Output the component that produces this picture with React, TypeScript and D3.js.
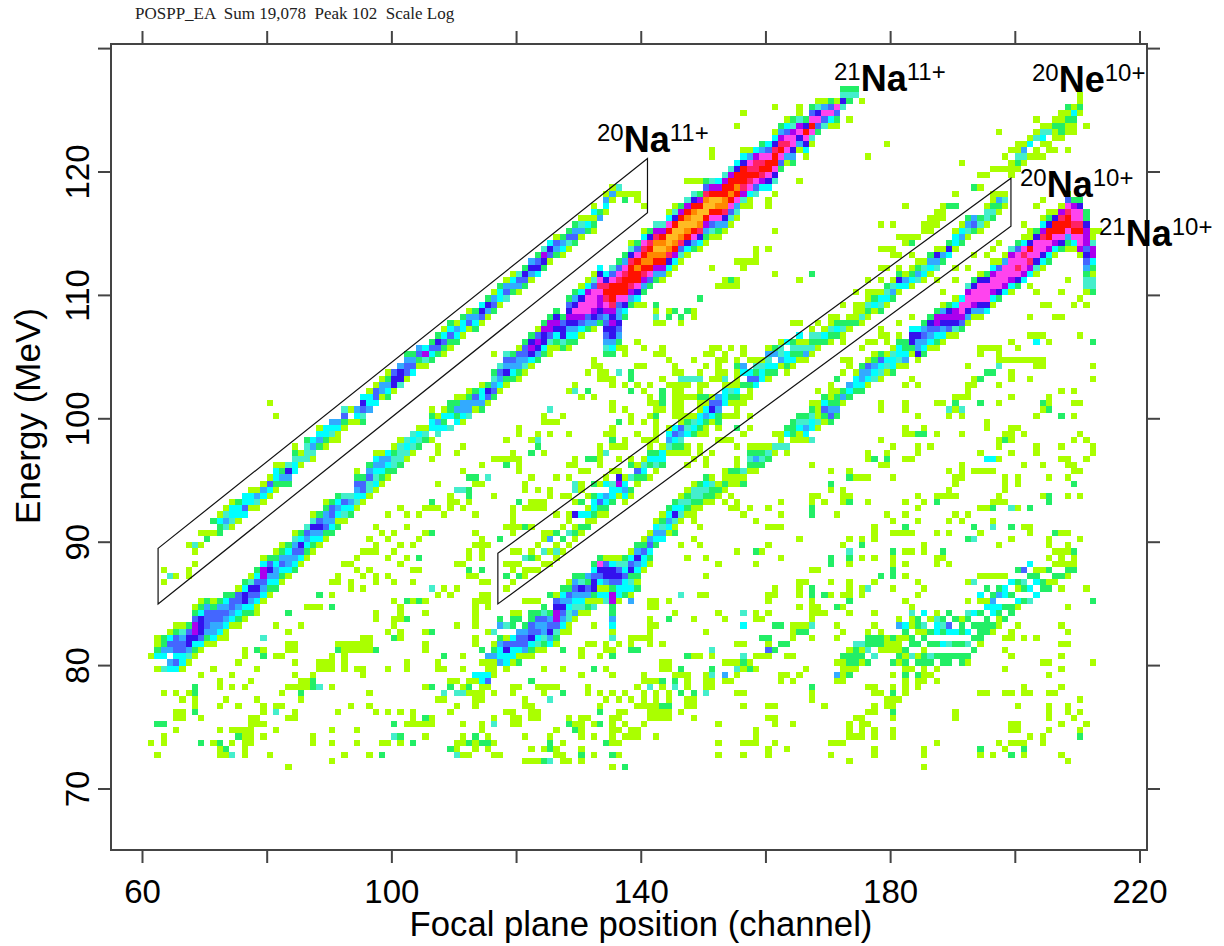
import React from 'react';
import * as d3 from 'd3';

// levels run on the log colour scale of the histogram, 1 = lowest count
const levelKeys = ['1','2','3','4','5','6','7','8','9','a','b','c','d'];
const levelColors = ['#aaff00','#22ee66','#44eecc','#00ffff','#33aaff','#4466ff','#3311ee','#aa00ee','#ff44ee','#ff2266','#ff1100','#ff8800','#ffbb22'];

const xTicks = [60,80,100,120,140,160,180,200,220];
const xLabels = [60,100,140,180,220];
const yTicks = [70,80,90,100,110,120,130];
const yLabels = [70,80,90,100,110,120];

const gate11 = [[62.5,89.5],[141,121.1],[141,116.7],[62.5,85]];
const gate10 = [[117,89.1],[199.3,119.5],[199.3,115.6],[117,85]];

const ionLabels = [
  {mass:'20',el:'Na',q:'11+',px:597,py:152},
  {mass:'21',el:'Na',q:'11+',px:834,py:91},
  {mass:'20',el:'Ne',q:'10+',px:1032,py:92},
  {mass:'20',el:'Na',q:'10+',px:1020,py:197},
  {mass:'21',el:'Na',q:'10+',px:1099,py:246},
];

// [channel, lowest energy bin, levels going up in 0.5 MeV bins, . = empty]
const ridge21Na11: [number,number,string][] = [
[61,80.5,"1"],[62,79.5,"1.4211"],[63,79.5,"3.4522"],[64,79.5,"45.5641"],[65,79.5,"46466621"],[66,79.5,"14466531"],[67,80,"1357762"],[68,80.5,"124788621"],[69,81,"146777421"],[70,81.5,"12566652"],
[71,81.5,"14556621"],[72,82,"1456652"],[73,82.5,"1456542"],[74,83,"145662"],[75,83,"1245661"],[76,83.5,"1247742"],[77,84,"2456731"],[78,84.5,"1467642"],[79,85,"14568841"],[80,85.5,"1245762"],
[81,86,"2455421"],[82,86.5,"1246521"],[83,87,"145542"],[84,87.5,"2456531"],[85,88,"146742"],[86,88.5,"124563"],[87,89,"1245731"],[88,89.5,"145762"],[89,90,"1265521"],[90,90.5,"245662"],
[91,91,"214542"],[92,91.5,"13463"],[93,92,"2453"],[94,92.5,"1345621"],[95,93,"14662"],[96,93.5,"133652"],[97,94,"1434541"],[98,94.5,"124551"],[99,95,"12454"],[100,95.5,"23321"],
[101,96,"23331"],[102,96.5,"1343"],[103,97,"1343"],[104,97.5,"2341"],[105,98,"231"],[106,98,"1.4421"],[107,98.5,"3451"],[108,99,"4241"],[109,99,"3.422"],[110,99.5,"42521"],
[111,99.5,"14551"],[112,100,"35521"],[113,100.5,"1562"],[114,100.5,"25441"],[115,101,"1672"],[116,101.5,"26532"],[117,102,"14563"],[118,102.5,"127563"],[119,103,"24562"],[120,103,"125561"],
[121,103.5,"135662"],[122,104,"147872"],[123,104.5,"257861"],[124,105,"247782"],[125,105,"1136882"],[126,105.5,"1247872"],[127,105.5,"237762"],[128,105.5,"124578762"],[129,106,"245789752"],[130,106.5,"146899741"],
[131,107,"256999841"],[132,107,"1578999631"],[133,107.5,"267889a974"],[134,105,"235676589aba74"],[135,105,"24577878abbb963"],[136,105.5,"125675569bba962"],[137,108,"2479bbba952"],[138,109,"258abbba731"],[139,109,"1479bbcb962"],[140,110,"258abcba941"],
[141,110.5,"269bccba72"],[142,111,"258bcdca83"],[143,111,"158bcdcb83"],[144,111.5,"147acddb941"],[145,112,"148bcddb731"],[146,112.5,"136acddb82"],[147,113,"147bcdcb83"],[148,113.5,"259bddcb73"],[149,113.5,"147acddb82"],[150,114,"1258bddca62"],
[151,114.5,"1369bddb83"],[152,114.5,"1259bcdb84"],[153,115,"157accbb83"],[154,115.5,"1369bcbb83"],[155,116.5,"359bcbb74"],[156,117,"138abbb741"],[157,117,"1149aba951"],[158,118,"369baa84"],[159,118.5,"48aba952"],[160,118.5,"479bb964"],
[161,119,"379bba741"],[162,120,"269ba852"],[163,120.5,"159a9641"],[164,120.5,"25799832"],[165,121.5,"1579831"],[166,121,"1479b72"],[167,122,"139b962"],[168,123,"269731"],[169,123.5,"36951"],[170,123.5,"14962"],
[171,123.5,"12691"],[172,125,"3732"],[173,125.5,"232"],[174,126,"32"],
];

const ridge20Na11: [number,number,string][] = [
[63,86.5,"1.1"],[64,87,"3"],[65,87,"1"],[67,87,"11"],[68,87.5,".1.1"],[67,89.5,"1"],[68,89.5,"3"],[69,89.5,"1.1"],[70,90,"21"],
[71,90.5,"1.2"],[72,90.5,"2241"],[73,91,"3531"],[74,91,"13441"],[75,91.5,"1442"],[76,92,"4644"],[77,92.5,"1441"],[78,92.5,"1351"],[79,93,"1451"],[80,93.5,"1461"],
[81,94,"12441"],[82,94.5,"2521"],[83,94.5,"2573"],[84,95.5,"44321"],[85,96,"131"],[86,96.5,"3332"],[87,96.5,"1354"],[88,97.5,"2541"],[89,97.5,"1244"],[90,98,"1345"],
[91,98,"1145"],[92,99,"1263"],[93,99.5,"1.1"],[94,99.5,"145"],[95,99.5,"23674"],[96,100.5,"5441"],[97,101,"4661"],[98,101.5,"1551"],[99,101.5,"24521"],[100,102,"1776"],
[101,102.5,"3775"],[102,103,"16652"],[103,103.5,"4652"],[104,104,"1265"],[105,104,"1384"],[106,104.5,"2462"],[107,105,"2672"],[108,105,"12641"],[109,105.5,"12642"],[110,106,"2451"],
[111,106.5,"1442"],[112,107,"1651"],[113,107,"2452"],[114,107.5,"1674"],[115,108,"1572"],[116,108.5,"2651"],[117,109,"1442"],[118,109.5,"3651"],[119,110,"2541"],[120,110,"1563"],
[121,110.5,"2672"],[122,111,"1575"],[123,111.5,"4762"],[124,112,"2783"],[125,112.5,"1674"],[126,113,"2561"],[127,113,"1452"],[128,113.5,"1362"],[129,114,"2652"],[130,114.5,"1531"],
[131,115,"241"],[132,115,"12141"],[133,116,"52"],[134,116.5,"1451"],[135,117.5,"151"],[136,118,"13"],[137,117.5,"21"],[138,118,"1"],[139,117.5,"11"],[140,117,"1"],
];

const ridge20Na10: [number,number,string][] = [
[118,86,"1.2.1"],[119,86.5,"1.11"],[120,87,"2.1.1"],[121,87,"11.3"],[122,87.5,"1.21"],[123,87.5,"1.1.1"],[124,88,"1.3.1"],[125,88,"1.1.51"],[126,88.5,"131.2"],[127,89,"1.2.1"],
[128,89.5,"1.3.1"],[129,90,"121.7.1.3"],[130,90.5,"12.4.2.1"],[131,91,"2141.1"],[132,91.5,"12442.2"],[133,92,"1264.1"],[134,92,"1245.41"],[135,93,"2443.1"],[136,93.5,"14871.1"],[137,93,"14541"],
[138,93.5,"12.3.2"],[139,94.5,"1261"],[140,95,"2431"],[141,95,"1.2421"],[142,95.5,"1342.1"],[143,96,"2441"],[144,97,"13541"],[145,97,"12464"],[146,97.5,"23561"],[147,97.5,"1.4321"],
[148,98.5,"2431"],[149,98.5,"12441"],[150,99,"1254.2"],[151,99.5,"14761"],[152,100,"2565"],[153,100,"1.4441"],[154,101,"1231"],[155,102,"4.1.2"],[156,102.5,"2.45.1"],[157,102,"1264.1"],
[158,102.5,"46231"],[159,103,"4431"],[160,103,"124351"],[161,103.5,"24.52"],[162,104,"15331"],[163,103.5,"1244.4"],[164,104,"14232"],[165,104.5,"12314"],[166,104.5,"1531"],[167,105,"1323"],
[168,105.5,"123"],[169,106,"241"],[170,106,"1231"],[171,106.5,"242"],[172,106,"1132"],[173,107,"121"],[174,107.5,"211"],[175,107.5,"131"],[176,108,"1231"],[177,108.5,"1421"],
[178,108.5,"2341"],[179,109,"1432"],[180,109.5,"2531"],[181,110,"1472"],[182,110.5,"451"],[183,110.5,"1421"],[184,111,"3521"],[185,111,"1431"],[186,111.5,"1452"],[187,112,"3571"],
[188,112.5,"251"],[189,113,"472"],[190,113.5,"1441"],[191,114,"2541"],[192,114.5,"1352"],[193,115,"265"],[194,115,"132"],[195,115.5,"1331"],[196,116,"2321"],[197,116.5,"1251"],
[198,117,"131"],[199,119.5,"11"],[200,120,"1231"],[201,120.5,"1351"],[202,121,"1.41"],[203,121.5,"1.31"],[204,122,"1431"],[205,122,"1.31"],[206,122.5,"1121"],[207,123,"221"],
[208,123,"1121"],[209,123.5,"1241"],[210,124.5,"1211"],[211,123.5,"1"],[210,125.5,"1"],
];

const ridge21Na10: [number,number,string][] = [
[113,78.5,"14"],[114,78,"144"],[115,78,"1641"],[116,79,"111521"],[117,80,"54452.52"],[118,79.5,"144761.3"],[119,80,"14464.221"],[120,80,"214665.21"],
[121,80.5,"156652"],[122,80.5,"12476622"],[123,81,"1346562"],[124,81,"12355632"],[125,81.5,"457652"],[126,81.5,"123688761"],[127,82.5,"14567542"],[128,83,"13345621"],[129,83.5,"15345652"],[130,84,"1345732"],
[131,84,"1215625"],[132,84.5,"31277642"],[133,85,"14146792"],[134,85,"34157761"],[135,82,"31452288267741"],[136,85,"14467631"],[137,85.5,"2446432"],[138,85,"514327641"],[139,86,"21245752"],[140,87.5,"144621"],
[141,88,"124651"],[142,89.5,"24541"],[143,90,"45321"],[144,90.5,"14542"],[145,90.5,"213742"],[146,91.5,"13431"],[147,92,"12321"],[148,92,"112331"],[149,92.5,"12332"],[150,93,"12342"],
[151,93,"12231"],[152,93.5,"121"],[153,94,"1211"],[154,94.5,"112"],[155,95,"1211"],[156,94.5,"213"],[157,95.5,"12321"],[158,95.5,"12521"],[159,96,"2321"],[160,96.5,"231"],
[161,97,"13.1"],[162,97.5,"311"],[163,97,"13.42"],[164,98,"1222"],[165,98,"11432"],[166,98,"14532"],[167,98,"3.4432"],[168,99,"1311"],[169,99.5,"12642"],[170,99.5,"26521"],
[171,100,"25221"],[172,101,"152"],[173,101.5,"245"],[174,102,"2441"],[175,102,"24552"],[176,102.5,"14561"],[177,103,"3452"],[178,103,"13462"],[179,103.5,"1341"],[180,103.5,"24431"],
[181,104,"13442"],[182,104,"15422"],[183,105,"12774"],[184,104.5,"175574"],[185,105,"245652"],[186,105.5,"145672"],[187,105.5,"1246882"],[188,106,"1457851"],[189,106.5,"167872"],[190,106.5,"1378841"],
[191,107,"268994"],[192,107.5,"1579983"],[193,108,"1589972"],[194,108,"15799971"],[195,108.5,"4799972"],[196,109,"14899841"],[197,109.5,"2799961"],[198,110,"4899951"],[199,110,"14899983"],[200,110.5,"279a9962"],
[201,111,"4899a941"],[202,111.5,"48a9b71"],[203,111.5,"13799972"],[204,112,"14799a841"],[205,112.5,"2489bb72"],[206,113,"1489bb71"],[207,113.5,"279bba81"],[208,113.5,"1259bba961"],[209,113.5,"149ba9982"],[210,113,"1899ba9972"],
[211,110,"13325676888722"],[212,110,"2331248831"],
];

const lowBand: [number,number,string][] = [
[172,79.5,"112"],[173,79.5,"1221"],[174,80,"2223"],[175,80.5,"213"],[176,81,"322"],[177,80.5,"3.22"],[178,81,"1221"],[179,81,"1.1"],[180,79,"1.2.1.2"],[181,80,"121.1.51"],
[182,79.5,"12.2.124"],[183,79.5,"1.3.22.1131"],[184,80,"21.2.122"],[185,79.5,"12.1.213.4"],[186,80,"23.2.2.1"],[187,79.5,"1.2.2.4431"],[188,80,"22.4.232"],[189,80,"22.3.46.2"],[190,80.5,"2.2.4.2"],[191,80,"22.2.221"],
[192,80.5,"2.3.4.23.1"],[193,81,"2.2.2.4"],[194,81.5,"1222.2.14"],[195,82.5,"222.41.2"],[196,82.5,"12.4452"],[197,83,"1124.52"],[198,83.5,"2.2.44.1"],[199,84,"22.2.4"],[200,84.5,"14.12.2"],[201,85,"2.23.6"],
[202,85,"3.4.2.4"],[203,85.5,"4.421"],[204,86,"22.1"],[205,86,"21.2.1"],[206,86.5,"12.1"],[207,87,"2.1.1"],[208,87,"121"],[209,87.5,"21"],
];

// loose counts away from the ridges: [energy bin, "channel channel:level ..."]
const scatterLeft: [number,string][] = [
[71.5,"83"],[72,"90"],[72.5,"62 72 73 74:3 76 80 92 96 98:2"],[73,"72 73:2 76"],[73.5,"61 63 69:2 71 72:2 74 76 77 87 90 94 98 99 101 103:2"],[74,"63 75:2 76 77 79 87 100:3 101:2 105"],
[74.5,"65 72 74 75 76 77 81 90 94"],[75,"62:2 63:2 77 78 79 100:2 102 103 104 105"],[75.5,"65 66 69 77 78 83 84 103 105:2"],[76,"65 66 68:2 79 81:3 84 91 97 99 101 103"],[76.5,"68 72 75 79 81 82 93 96"],[77,"66 68 73 78 85"],
[77.5,"63 65 67 68:2 82 85:2 96"],[78,"68:2 72 74 76 83 84 85 86 87:2 88:3 90 105"],[78.5,"72 77 85 86 87:2"],[79,"69 74 84 87 95"],[79.5,"71 78 88 89 90 92 94 95 99 102"],[80,"75 84 88 89 90 92 102"],
[80.5,"76 79:2 81 82 90 92"],[81,"76 78:2 79 83 84 91:2 92 93 94 95 96 97:2 105"],[81.5,"70 83 84 91 92 93 94 95 96 105"],[82,"73 79:3 95 96 100:2 101"],[82.5,"83 99 101 105"],[83,"81 85 100"],
[83.5,"97 100 101 102:2"],[84,"78 83:2 97 101 105"],[84.5,"86 87 88 90:2 101"],[85,"100 102:2 103 104:2 105"],[85.5,"88:2 90"],[86,"93 95"],[86.5,"90 91 93 97 100 103"],[87,"91 95 97 99"],
[87.5,"94 96 103 104"],[88,"92 93 101"],[88.5,"94 99 102 104:2"],[89,"95 96 97 100"],[89.5,"97 101 103"],[90,"96 99 104"],[90.5,"98 100 105"],[91,"97 102"],[92,"99 102 104"],[92.5,"101 105"],
[100,"81"],[101,"80"],
];

const scatterMid: [number,string][] = [
[71.5,"135 137:2"],[72,"121 122 123 124:2 125:3 127 128 130"],[72.5,"110:3 111 112 116 117 126 127 130:2 132 135:2 136 152 156"],[73,"109:2 110 113 115 122 124 125:2 126 130"],[73.5,"110 111 112:2 113 114:2 115:2 116 125:2 127 134:2 135 136 152 156 157"],[74,"111 113:2 115 121 125 130 132 135 137 138 139 142"],
[74.5,"114 126 129:2 130 135 136 138 139"],[75,"106 111 114 116:3 119 120 128:2 129 130 132 133:2 135 137 140 152"],[75.5,"106 116 119 120 122 123 128 130 131 135 136 141 142 143 144 148"],[76,"109 118 119 122 123 133:2 136 137 141 142 143 144 146"],[76.5,"110 113 121 122 133 139 140 141 142 143:2 144:2 147 148 156"],[77,"107 108 113 114 121 125:3 134 136 138 140 142 144 147 148"],
[77.5,"108:3 110:3 111:3 112 113 114 116 119 124 127:2 131 133 135 137 140 142 144 146:2 148:2 150:3 155 156"],[78,"106:2 109:2 111 112:2 119 120 123 124 125 126 131 139 141:3 143 145:3 147 150 151"],[78.5,"109 110 112 122:2 140 141 142 143:2 145:2 147 150 151 153 154"],[79,"130 135 140 145 146 147 150 151:3 153:5 155"],[79.5,"107 108 111 124 127 132:2 134 143 144 146:2 151:2 155:3 156 157:2"],[80,"107 114 115 116 143 144 153 154 155 156:2 157"],
[80.5,"108:2 111 115:5 130 133 135:2 147:2 148 149 151 156:3"],[81,"114:2 127:2 130 134 135 138:2 139:2 151:3"],[81.5,"113 131 132 134 136 138 141 143 155 156"],[82,"113 135:3 138 139 140 141"],[82.5,"106:2 115 116:3 128 141 150"],[83,"110 113 132 135:4 141 142 156:4"],
[83.5,"113 141 144:2 148 153"],[84,"113 145 152 156:3"],[84.5,"113 115 141 142"],[85,"113 114 115 121 122 123 141 142 144"],[85.5,"107 109 114 115 125:2 146:3 149 150"],[86,"106:3 108 110"],[86.5,"114 115"],
[87,"112 113 150"],[87.5,"112:2 114:2"],[88,"110 111 152"],[88.5,"112 114 147 150"],[89,"112 114 119 155"],[89.5,"113 114 115 146 149"],[90,"114 117:2 148"],[90.5,"106:2 113 119 124 125 126"],
[91,"118 119 120 121:2 122 149"],[91.5,"119 146 148"],[92,"108 113 119 126 128 156"],[92.5,"106 107 109 111 119 121 122 123 124 147 149 154 155 157"],[93,"106:2 109 110 112 120:2 122 123 124 153 155"],[93.5,"109 112:2 116 125 127 128 150 152 154"],
[94,"110:3 111:3 112:2 121 123 125"],[94.5,"107 113 114 121 129:3 130 155"],[95,"112:2 113:2 115:3 122 126 128 155"],[95.5,"111 120 130 131 153 156"],[96,"114 118:2 120 128 129 133 140 141 147 150 155"],[96.5,"106 116 117 118 119 120 129 131:2 132:2 133 148 150"],
[97,"107 110 119 122:2 124 133 134:3 146 147"],[97.5,"107 111 123:2 133 135 136 137 149 155"],[98,"118 122 123:3 135:2 137 154"],[98.5,"120 123 125 128 134 142 156"],[99,"120 135 142 152 157"],[99.5,"124 125 126 136:2 138 140"],
[100,"124 127 138 141 154"],[100.5,"125:3 135 137 143"],[101,"135 141 142 146 151 155"],[101.5,"130 132 141 143 145 147 148 156 157"],[102,"128 129:3 131:2 138:2 140"],[102.5,"129 135 137 139 141 144 146"],[103,"133 134 135 138:2 143 155"],[103.5,"131 133 134 136:3 138:2 146 149"],
[104,"132 133 139 140 145 150 152 156"],[104.5,"132 144 148"],[105,"116 135 137 142 143"],[105.5,"137 140 143"],[106,"136 139"],[107.5,"142 143 146"],[108,"142:3 144:2 146:2 148"],[108.5,"142 144 145:2 147:2 148"],[109,"140 142:2"],
[109.5,"149:2"],[110.5,"152 153 154 155"],[111,"153 154:2 155 165"],[111.5,"161 167:2"],[112,"151 156"],[112.5,"155 156 157 158"],[113,"158"],[113.5,"158 160"],[115,"161"],
[116,"155"],[116.5,"155"],[117,"160"],[117.5,"160"],[118,"161"],[119,"147 148 149 150 165"],[121,"151 176"],[121.5,"151"],[123.5,"155"],[124,"173"],[124.5,"156"],[125,"161 165"],[125.5,"175"],
];

const scatterRight: [number,string][] = [
[71.5,"185"],[72,"173 208"],[72.5,"160 170 177 185 194 196 199:2 201 207"],[73,"160 163 177 185 194:2 198 201:2"],[73.5,"158 161 170 171 172 187 197 199 200 201 204"],[74,"158 173 174 175 177 180 202 204 210:2"],
[74.5,"158 173 175 177 180 199 200 205 210"],[75,"161 164 173 175 176 199 200 207 211"],[75.5,"160 161 174 175 180 190 205 209"],[76,"176 177 180:2 190 205 208 210"],[76.5,"160 161 169 177 179 180 200 205 208"],[77,"167 179 180 181 210"],
[77.5,"167 177 178 180:2 182 194 195 198 199 201 202 205 206"],[78,"167:2 176 177 180 182 184 201 207"],[78.5,"162 164 171 172 182 184 185 187"],[79,"162 163 165 171:5 172 173:2 180 182:2 184:2 185 186 205"],[79.5,"158 166 174 182:2 185 187:3 198 207"],[80,"171 174 175 176:2 184:3 185 186:2 188:2 192 204 205 212"],
[80.5,"158 159 160 163 164 174 175:2 177:3 182 183 185:2 187:3 191:2 199 207"],[81,"160:6 161:2 198"],[81.5,"160 162:2 163:2 179 180 181 207 208"],[82,"159:2 160:2 164 167 171 198 199 201 203"],[82.5,"164 165:2 166:2 172 176 199 208"],[83,"161:2 162:2 164 165 166 167:3 171 177 200 207"],
[83.5,"158 159 167"],[84,"158 160 167 168 169 173 177"],[84.5,"165 167 168 171:2 172 208"],[85,"160 167 173:2 182 212:2"],[85.5,"160 161 165 167:2 169:2 170 172 173 175 184"],[86,"161 165 167:2 173 175 176:3 180 185 205 207 211"],
[86.5,"165 166 170 173 177 184 192 193:3"],[87,"178:2 180:2 182 194 195 196 197"],[87.5,"167 168 180:2"],[88,"158 170:2 173 180 182 187 189"],[88.5,"162 170:2 173:2 175 177 180 187 188 205 207 209"],[89,"158:2 159 173:3 180:2 182 183 185 188:2 206 208 209:2"],
[89.5,"160 172 175:2 185 197 205 208"],[90,"165 173 175 177 192:2 193:3 199 205 210"],[90.5,"177 180 181 182 183 187 189 194 202 206:2 207 208"],[91,"160 161 162 177 182:2 193:2 196:3 199:2 201 202"],[91.5,"158 180 184 189 191 196"],[92,"162 167:2 171 179 182 190 192"],
[92.5,"160 167:2 184 194 195 196:2 199:3 200 202:2"],[93,"162 167 169 172 173:2 176 182 185 187:2 196 197 198 205:2"],[93.5,"167 168 172 173 184 187 188 189 190 197 204 205:2 208 210"],[94,"170 172 189 198"],[94.5,"170:2 190 198 200 209:2"],[95,"173:2 174 175 176 180 190 191 198 200 205 208"],
[95.5,"170 173 189 191 193 194 195 196 209 210"],[96,"167 178 179 191 201 204 208 209"],[96.5,"176 177:2 179:2 182 183 195:4 196:4 197 207 208 211"],[97,"176 179 184 194 199 203 212"],[97.5,"180 184 186 197 203 207 212"],[98,"178 197 198:2 199 209 211"],
[98.5,"182 183 184:2 185:2 187 191 198 199 201 210"],[99,"182 185 195 199 200"],[99.5,"195"],[100,"184 189 191 203 207:2 209"],[100.5,"178 182 189:3 190 191:3 204 205:2"],[101,"182 187 188 190:2 194:2 197 204:2 205 209 210"],
[101.5,"190 191 192 199 205"],[102,"192 207 209"],[102.5,"192 193 197"],[103,"193 194:2 199 202 212"],[103.5,"195:2 196:2 199"],[104,"192 197:3 203 204 212"],[104.5,"197 198 199 200 201 202 203 204"],[105,"194 197"],
[105.5,"194 195 196 197 200"],[106,"199 203:4 205 212:2"],[106.5,"202 203 204 210"],[108,"202 206 207"],[109,"204 205 209 211"],[109.5,"210"],[110,"203 207"],[110.5,"202"],[111,"208"],
[115.5,"178 180 201"],[117,"182 203 207 208"],[117.5,"204 210"],[120.5,"191"],[122,"179"],[123,"197"],[123.5,"211"],
];

// the loose yellow and green fringe that widens the 10+ ridges
const scatterFringe: [number,string][] = [
[96,"138 140 143"],[96.5,"136 138 141:3 143"],[97,"142 143 149 151"],[98,"140 141 142 152 153"],[98.5,"135 139 145 148 150"],[99,"142 149 150 155:2"],[99.5,"140 142 148 149 150 151 152:2"],
[100,"142:2 145 146 155 157"],[100.5,"142 145 146 149 155"],[101,"143:2 145 146 149 150 156 167 168 178"],[101.5,"143:2 145 146 149:2 155:2 156 171:2"],[102,"143:2 145 146 149 155 170 168"],[102.5,"144 145 147 149 150 155 170 182 184"],[103,"146:3 147:3 148:3 149:3 151 152 153:3 171:2 183"],
[103.5,"145 149 152 153 155 172"],[104,"173 175 176"],[104.5,"148 152 153 155 172 173"],[105,"150 151 153 177 178 179 180 181"],[105.5,"151 152 154 156 175"],[106,"176 177 179"],[106.5,"178 179 181"],[107,"167 169 170 178"],[107.5,"164 165 168 170 181"],[108,"170 171 173 183"],
[109,"172 174 175 177"],[110,"174 176 178 188"],[111,"176 178 187 190"],[112,"178 179 181 190 192"],[113,"180 181 183 193 195"],[113.5,"178 179 180 196"],[114,"182 183:2 197"],[114.5,"181 182 183 184 201 202 203 204 205"],[115,"185 186 202 203 204:2 205 212 213"],[115.5,"185 186 187 204 205 206 211"],
[116,"186 187 188 205:4 207 209 211:2"],[116.5,"187 188 205 206 207 208 211:2"],[117,"188 189:2 190:2"],[118,"190 196 197"],[118.5,"193:2 194"],[119.5,"194 195"],[120,"196 197 198"],[120.5,"199 200"],[121,"198 203 204"],[121.5,"199 205 206 208"],
[122,"200 201"],[122.5,"202 203 207"],[123,"203 204 205 209"],[123.5,"205 206"],[124,"203 206:2 207:2"],[124.5,"207 208"],[125,"208:2 210"],
];

const xScale = d3.scaleLinear().domain([60, 220]).range([142.5, 1140]);
const yScale = d3.scaleLinear().domain([70, 120]).range([789, 172]);
const colorScale = d3.scaleOrdinal<string,string>().domain(levelKeys).range(levelColors);
const frame = { left: 111, right: 1147, top: 44, bottom: 850 };
const gateLine = d3.line<number[]>().x(d => xScale(d[0])).y(d => yScale(d[1])).curve(d3.curveLinearClosed);

function buildCells() {
  const cells = new Map<string, {c:number,e:number,lv:string}>();
  const put = (c:number, e:number, lv:string) => { cells.set(c + '|' + e, {c, e, lv}); };
  [scatterLeft, scatterMid, scatterRight, scatterFringe].forEach(rows => rows.forEach(([e, s]) => {
    s.split(' ').forEach(tok => {
      const [c, lv] = tok.split(':');
      put(+c, e, lv || '1');
    });
  }));
  [lowBand, ridge20Na11, ridge20Na10, ridge21Na10, ridge21Na11].forEach(ridge => ridge.forEach(([c, low, s]) => {
    s.split('').forEach((lv, i) => { if (lv !== '.') put(c, low + i * 0.5, lv); });
  }));
  return Array.from(cells.values());
}

export default function App() {
  const cells = React.useMemo(buildCells, []);
  const sans = '"Liberation Sans", Arial, sans-serif';
  return (
    <svg width={1224} height={946} style={{ position: 'absolute', left: 0, top: 0, background: '#fff' }}>
      <g shapeRendering="crispEdges">
        {cells.map(d => (
          <rect key={d.c + '_' + d.e} x={xScale(d.c - 0.1)} y={yScale(d.e + 0.5)}
            width={xScale(d.c + 0.9) - xScale(d.c - 0.1)} height={yScale(d.e) - yScale(d.e + 0.5)}
            fill={colorScale(d.lv)} />
        ))}
      </g>

      {[gate11, gate10].map((g, i) => (
        <path key={i} d={gateLine(g) as string} fill="none" stroke="#111" strokeWidth={1.2} />
      ))}

      <rect x={frame.left} y={frame.top} width={frame.right - frame.left} height={frame.bottom - frame.top}
        fill="none" stroke="#444" strokeWidth={2} />
      {xTicks.map(t => (
        <g key={t} stroke="#444" strokeWidth={2}>
          <line x1={xScale(t)} x2={xScale(t)} y1={frame.bottom} y2={frame.bottom + 13} />
          <line x1={xScale(t)} x2={xScale(t)} y1={frame.top} y2={frame.top - 13} />
        </g>
      ))}
      {yTicks.map(t => (
        <g key={t} stroke="#444" strokeWidth={2}>
          <line x1={frame.left} x2={frame.left - 13} y1={yScale(t)} y2={yScale(t)} />
          <line x1={frame.right} x2={frame.right + 13} y1={yScale(t)} y2={yScale(t)} />
        </g>
      ))}

      <g fontFamily={sans} fontSize={33} fill="#000">
        {xLabels.map(t => (
          <text key={t} x={xScale(t)} y={903} textAnchor="middle">{t}</text>
        ))}
        {yLabels.map(t => (
          <text key={t} transform={`translate(89,${yScale(t)}) rotate(-90)`} textAnchor="middle">{t}</text>
        ))}
        <text x={641} y={936} textAnchor="middle" fontSize={34.7}>Focal plane position (channel)</text>
        <text transform="translate(40,416) rotate(-90)" textAnchor="middle" fontSize={35}>Energy (MeV)</text>
      </g>

      <text x={135} y={19} fontFamily='"Liberation Serif", serif' fontSize={17} fill="#222" xmlSpace="preserve">POSPP_EA  Sum 19,078  Peak 102  Scale Log</text>

      {ionLabels.map((l, i) => (
        <text key={i} x={l.px} y={l.py} fontFamily={sans} fill="#000">
          <tspan fontSize={24} dy={-11}>{l.mass}</tspan>
          <tspan fontSize={36} fontWeight="bold" dy={11}>{l.el}</tspan>
          <tspan fontSize={24} dy={-11}>{l.q}</tspan>
        </text>
      ))}
    </svg>
  );
}
